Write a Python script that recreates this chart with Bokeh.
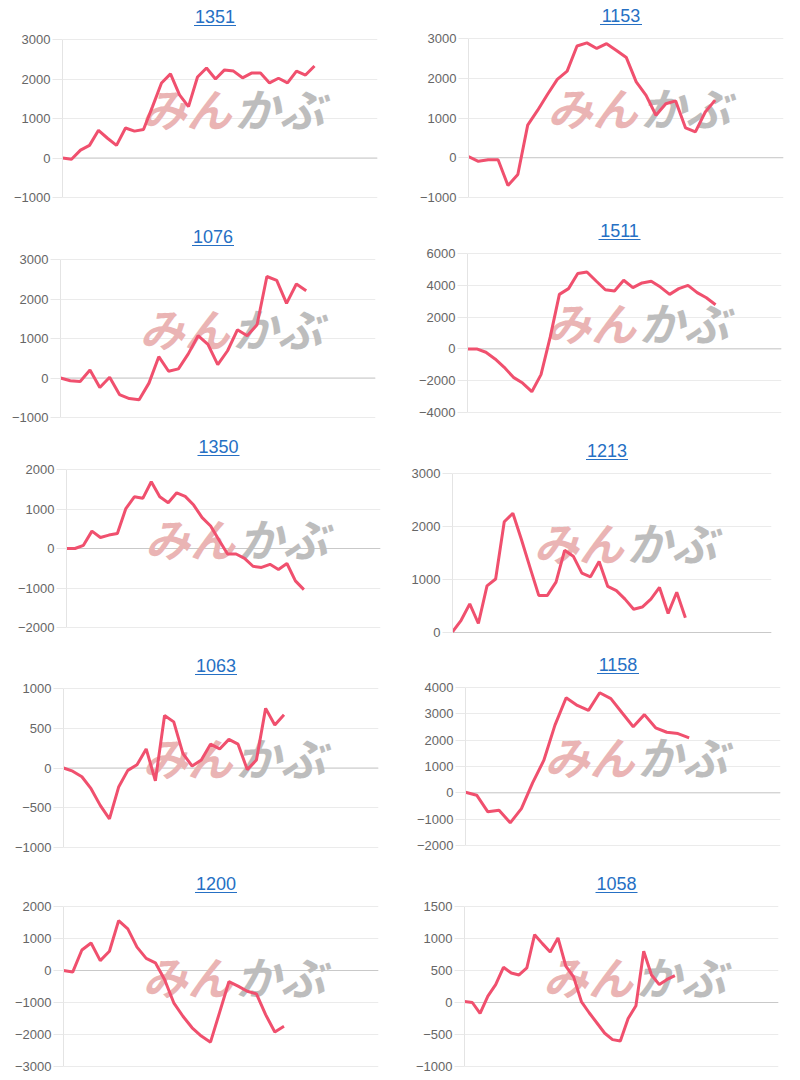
from bokeh.plotting import figure
from bokeh.layouts import column, row
from bokeh.models import Range1d, FixedTicker, Span, ColumnDataSource
from bokeh.core.properties import value
from bokeh.embed import file_html
from bokeh.resources import INLINE

# ---------------- data ----------------
codes = ["1351", "1153", "1076", "1511", "1350", "1213", "1063", "1158", "1200", "1058"]

v1351 = [0, -30, 200, 320, 700, 500, 320, 760, 680, 720, 1300, 1900, 2130, 1600, 1300, 2050,
         2280, 2000, 2230, 2200, 2030, 2150, 2150, 1900, 2020, 1900, 2200, 2100, 2330]
v1153 = [30, -90, -50, -50, -700, -420, 820, 1190, 1590, 1970, 2180, 2810, 2890, 2750, 2870,
         2700, 2520, 1910, 1570, 1070, 1360, 1430, 750, 650, 1150, 1450]
v1076 = [0, -70, -90, 200, -240, 20, -420, -520, -550, -130, 540, 170, 230, 610, 1070, 850,
         340, 690, 1220, 1070, 1350, 2570, 2470, 1890, 2380, 2210]
v1511 = [0, 0, -210, -630, -1160, -1790, -2150, -2690, -1620, 740, 3430, 3790, 4740, 4840,
         4270, 3720, 3640, 4320, 3850, 4150, 4250, 3890, 3430, 3790, 4000, 3540, 3220, 2780]
v1350 = [0, 0, 80, 440, 280, 340, 380, 1010, 1310, 1270, 1690, 1310, 1160, 1410, 1320, 1100,
         780, 570, 210, -140, -140, -250, -450, -480, -400, -530, -380, -820, -1040]
v1213 = [10, 230, 540, 170, 880, 1010, 2090, 2250, 1750, 1220, 700, 700, 950, 1550, 1440, 1120,
         1050, 1340, 870, 790, 630, 440, 480, 630, 850, 360, 760, 280]
v1063 = [0, -40, -110, -260, -470, -640, -240, -30, 40, 240, -160, 660, 580, 180, 25, 100, 300,
         240, 360, 300, -20, 100, 750, 540, 670]
v1158 = [20, -90, -720, -660, -1140, -600, 380, 1230, 2570, 3610, 3320, 3130, 3800, 3580, 3040,
         2510, 2970, 2470, 2300, 2250, 2090]
v1200 = [0, -50, 640, 860, 310, 600, 1560, 1300, 730, 380, 240, -280, -1010, -1430, -1790, -2050,
         -2240, -1300, -350, -490, -650, -730, -1380, -1920, -1740]
v1058 = [15, 0, -170, 100, 280, 550, 460, 430, 540, 1060, 920, 790, 1010, 570, 400, 15, -160,
         -320, -480, -580, -600, -250, -50, 800, 430, 280, 360, 420]

t1351 = [-1000, 0, 1000, 2000, 3000]
t1153 = [-1000, 0, 1000, 2000, 3000]
t1076 = [-1000, 0, 1000, 2000, 3000]
t1511 = [-4000, -2000, 0, 2000, 4000, 6000]
t1350 = [-2000, -1000, 0, 1000, 2000]
t1213 = [0, 1000, 2000, 3000]
t1063 = [-1000, -500, 0, 500, 1000]
t1158 = [-2000, -1000, 0, 1000, 2000, 3000, 4000]
t1200 = [-3000, -2000, -1000, 0, 1000, 2000]
t1058 = [-1000, -500, 0, 500, 1000, 1500]

series = [v1351, v1153, v1076, v1511, v1350, v1213, v1063, v1158, v1200, v1058]
ticks = [t1351, t1153, t1076, t1511, t1350, t1213, t1063, t1158, t1200, t1058]

# ---------------- layout (pixels inside each 400x216 panel) ----------------
# frame left, frame right, top tick y, bottom tick y, fraction of width covered by data
geom = [
    (62, 377, 39, 197, 0.80),
    (68, 383, 38, 197, 0.783),
    (60, 375, 43, 201, 0.78),
    (67, 381, 37, 196, 0.79),
    (66, 380, 37, 195, 0.756),
    (52, 371, 41, 200, 0.73),
    (63, 378, 40, 199, 0.70),
    (65, 380, 39, 197, 0.71),
    (63, 378, 42, 202, 0.70),
    (64, 378, 42, 202, 0.67),
]

PW, PH = 400, 216
LINE = "#f0506e"
BLUE = "#2670c4"


def panel(code, vals, tks, g):
    L, R, t, b, frac = g
    ymin, ymax = min(tks), max(tks)
    s = (ymax - ymin) / (b - t)
    y0 = ymin - (PH - b) * s
    y1 = ymax + t * s
    n = len(vals)
    xend = (n - 1) / frac
    sx = xend / (R - L)

    p = figure(width=PW, height=PH, x_range=Range1d(0, xend), y_range=Range1d(y0, y1),
               output_backend="svg", toolbar_location=None, x_axis_location=None,
               min_border_left=L, min_border_right=PW - R, min_border_top=0,
               min_border_bottom=0)
    p.outline_line_color = None
    p.background_fill_color = "white"
    p.border_fill_color = "white"
    p.xgrid.visible = False

    ax = p.yaxis[0]
    ax.ticker = FixedTicker(ticks=tks)
    ax.bounds = (ymin, ymax)
    ax.axis_line_color = "#e4e4e4"
    ax.axis_line_width = 1
    ax.major_tick_out = 10
    ax.major_tick_in = 0
    ax.major_tick_line_color = "#e8e8e8"
    ax.minor_tick_line_color = None
    ax.major_label_standoff = 2
    ax.major_label_text_font = "Liberation Sans"
    ax.major_label_text_font_size = "13px"
    ax.major_label_text_color = "#666666"

    p.ygrid.ticker = FixedTicker(ticks=tks)
    p.ygrid.grid_line_color = "#ebebeb"
    p.ygrid.grid_line_width = 1

    zero = Span(location=0, dimension="width", line_color="#c9c9c9", line_width=1)
    zero.level = "underlay"
    p.add_layout(zero)

    # watermark
    wx = 0.54 * xend
    wy = ymax - 0.43 * (ymax - ymin)
    p.text(x=[wx - 1 * sx], y=[wy], text=["みん"], text_align="right", text_baseline="middle",
           text_font=value("Noto Sans CJK JP"), text_font_style="bold italic",
           text_font_size="45px", text_color="#eab4b4")
    p.text(x=[wx + 2 * sx], y=[wy], text=["かぶ"], text_align="left", text_baseline="middle",
           text_font=value("Noto Sans CJK JP"), text_font_style="bold italic",
           text_font_size="45px", text_color="#bdbdbd")

    # series line
    src = ColumnDataSource(dict(x=list(range(n)), y=vals))
    p.line("x", "y", source=src, line_color=LINE, line_width=3)

    # title (link style)
    xc = xend / 2 - 5 * sx
    p.text(x=[xc], y=[ymax + 23 * s], text=[code], text_align="center",
           text_baseline="middle", text_font=value("Liberation Sans"),
           text_font_size="18px", text_color=BLUE)
    p.segment(x0=[xc - 21 * sx], y0=[ymax + 14 * s], x1=[xc + 21 * sx], y1=[ymax + 14 * s],
              line_color=BLUE, line_width=1.2)
    return p


figs = [panel(c, v, tk, g) for c, v, tk, g in zip(codes, series, ticks, geom)]
layout = column(*[row(figs[2 * i], figs[2 * i + 1]) for i in range(5)])

open("out.html", "w").write(file_html(layout, INLINE))
